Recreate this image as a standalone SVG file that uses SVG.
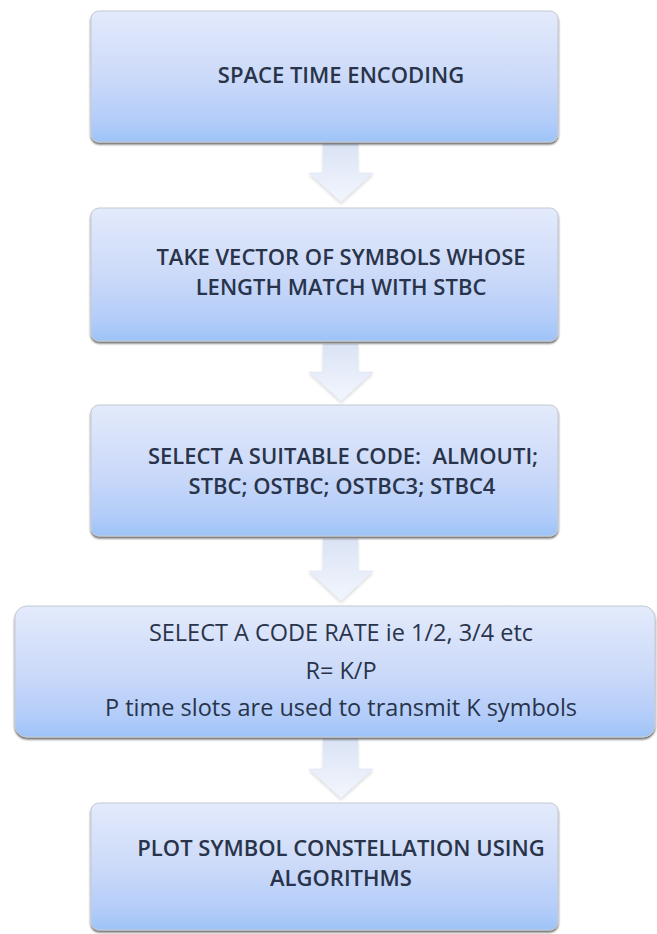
<svg xmlns="http://www.w3.org/2000/svg" width="657" height="934" viewBox="0 0 657 934">
<defs>
<linearGradient id="boxg" x1="0" y1="0" x2="0" y2="1">
<stop offset="0" stop-color="#e3eafb"/>
<stop offset="0.5" stop-color="#ccdaf9"/>
<stop offset="0.85" stop-color="#b2ccf9"/>
<stop offset="1" stop-color="#9dc3f7"/>
</linearGradient>
<linearGradient id="arrg" x1="0" y1="0" x2="0" y2="1">
<stop offset="0" stop-color="#dae3f5"/>
<stop offset="1" stop-color="#f3f6fd"/>
</linearGradient>
<filter id="sh" x="-5%" y="-5%" width="110%" height="115%">
<feGaussianBlur in="SourceAlpha" stdDeviation="1.2"/>
<feOffset dy="2"/>
<feComponentTransfer><feFuncA type="linear" slope="0.6"/></feComponentTransfer>
<feMerge><feMergeNode/><feMergeNode in="SourceGraphic"/></feMerge>
</filter>
<filter id="ash" x="-20%" y="-20%" width="140%" height="140%">
<feGaussianBlur in="SourceAlpha" stdDeviation="1.5"/>
<feOffset dy="1.5"/>
<feComponentTransfer><feFuncA type="linear" slope="0.15"/></feComponentTransfer>
<feMerge><feMergeNode/><feMergeNode in="SourceGraphic"/></feMerge>
</filter>
</defs>
<style>
.box{fill:url(#boxg);stroke:#c4cad4;stroke-width:1;filter:url(#sh)}
.arr{fill:url(#arrg);stroke:#dde4f1;stroke-width:0.6;filter:url(#ash)}
.t{font-family:"Open Sans","Liberation Sans",sans-serif;font-size:22px;fill:#29344a;text-anchor:middle;font-weight:600;white-space:pre}
.r{font-family:"Open Sans","Liberation Sans",sans-serif;font-size:23.5px;fill:#29344a;text-anchor:middle}
</style>
<rect width="657" height="934" fill="#ffffff"/>
<g id="connectors">
<path class="arr" d="M323,144 H358 V173 H373 L341,202 L309,173 H323 Z"/>
<path class="arr" d="M323,344 H358 V372 H373 L341,401 L309,372 H323 Z"/>
<path class="arr" d="M323,539 H358 V571 H373 L341,601 L309,571 H323 Z"/>
<path class="arr" d="M323,739 H358 V769 H373 L341,798 L309,769 H323 Z"/>
</g>
<g id="n1">
<rect class="box" x="91" y="11" width="467" height="131" rx="8"/>
<text class="t" x="341" y="83">SPACE TIME ENCODING</text>
</g>
<g id="n2">
<rect class="box" x="91" y="208" width="467" height="133" rx="8"/>
<text class="t" x="341" y="265">TAKE VECTOR OF SYMBOLS WHOSE</text>
<text class="t" x="341" y="295">LENGTH MATCH WITH STBC</text>
</g>
<g id="n3">
<rect class="box" x="91" y="405" width="467" height="131" rx="8"/>
<text class="t" x="343" y="464">SELECT A SUITABLE CODE:  ALMOUTI;</text>
<text class="t" x="342" y="494">STBC; OSTBC; OSTBC3; STBC4</text>
</g>
<g id="n4">
<rect class="box" x="15" y="606" width="640" height="131" rx="12"/>
<text class="r" x="341" y="641">SELECT A CODE RATE ie 1/2, 3/4 etc</text>
<text class="r" x="341" y="679">R= K/P</text>
<text class="r" x="341" y="716">P time slots are used to transmit K symbols</text>
</g>
<g id="n5">
<rect class="box" x="91" y="803" width="467" height="127" rx="8"/>
<text class="t" x="341" y="856">PLOT SYMBOL CONSTELLATION USING</text>
<text class="t" x="341" y="886">ALGORITHMS</text>
</g>
</svg>
